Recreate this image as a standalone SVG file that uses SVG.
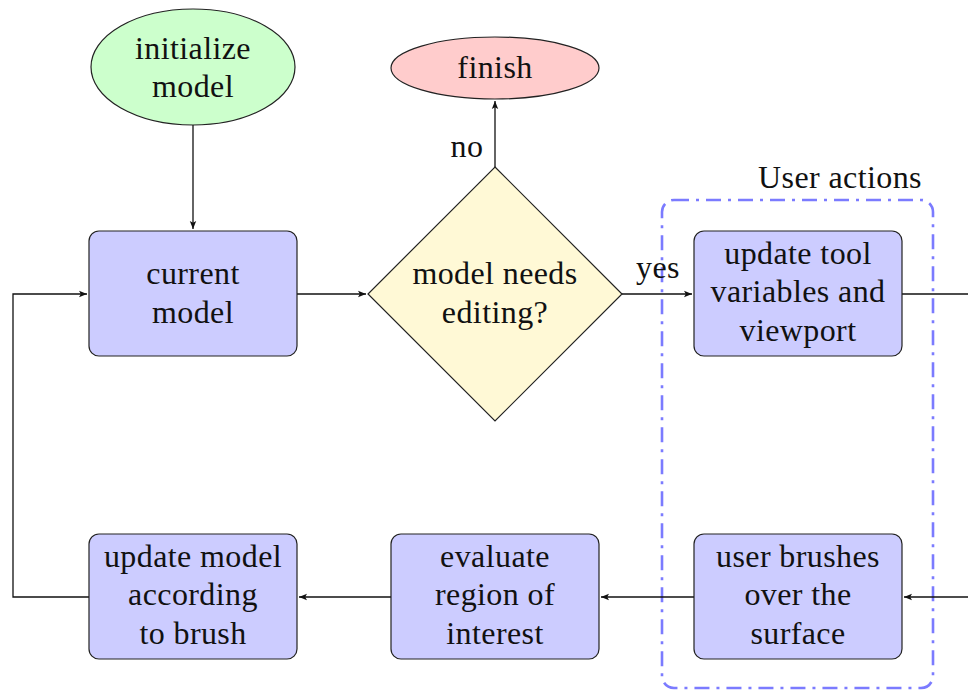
<svg xmlns="http://www.w3.org/2000/svg" width="968" height="690" viewBox="0 0 968 690">
<style>
text{font-family:"Liberation Serif","DejaVu Serif",serif;font-size:32px;letter-spacing:0.4px;fill:#111;text-anchor:middle}
.box{fill:#ccccff;stroke:#222;stroke-width:1.2}
.c{fill:none;stroke:#111;stroke-width:1.3}
</style>
<defs>
<marker id="ah" markerWidth="10" markerHeight="8" refX="8" refY="4" orient="auto" markerUnits="userSpaceOnUse">
<path d="M0,0.8 L8,4 L0,7.2 L1.8,4 Z" fill="#111"/>
</marker>
</defs>
<rect width="968" height="690" fill="#fff"/>
<g id="group-user-actions">
<rect x="662" y="200" width="271" height="488" rx="12" fill="none" stroke="#7b7bff" stroke-width="2.6" stroke-dasharray="15,7,3,7"/>
<text x="840" y="188">User actions</text>
</g>
<g id="connectors">
<path class="c" d="M193,125 V229" marker-end="url(#ah)"/>
<path class="c" d="M297,294 H366" marker-end="url(#ah)"/>
<path class="c" d="M495,167 V101" marker-end="url(#ah)"/>
<path class="c" d="M622,294 H692" marker-end="url(#ah)"/>
<path class="c" d="M902,294 H968"/>
<path class="c" d="M968,597 H904" marker-end="url(#ah)"/>
<path class="c" d="M694,597 H601" marker-end="url(#ah)"/>
<path class="c" d="M391,597 H299" marker-end="url(#ah)"/>
<path class="c" d="M89,597 H13 V294 H87" marker-end="url(#ah)"/>
<text x="467" y="157">no</text>
<text x="658" y="278">yes</text>
</g>
<g id="initialize">
<ellipse cx="193" cy="67" rx="102" ry="58" fill="#ccffcc" stroke="#222" stroke-width="1.2"/>
<text x="193" y="59">initialize</text>
<text x="193" y="97">model</text>
</g>
<g id="finish">
<ellipse cx="495" cy="68" rx="104" ry="31" fill="#ffcccc" stroke="#222" stroke-width="1.2"/>
<text x="495" y="78">finish</text>
</g>
<g id="current-model">
<rect class="box" x="89" y="231" width="208" height="125" rx="10"/>
<text x="193" y="284">current</text>
<text x="193" y="323">model</text>
</g>
<g id="decision">
<polygon points="495,167 622,294 495,421 368,294" fill="#fff9d6" stroke="#222" stroke-width="1.2"/>
<text x="495" y="284">model needs</text>
<text x="495" y="323">editing?</text>
</g>
<g id="update-tool">
<rect class="box" x="694" y="231" width="208" height="125" rx="10"/>
<text x="798" y="264">update tool</text>
<text x="798" y="302">variables and</text>
<text x="798" y="341">viewport</text>
</g>
<g id="user-brushes">
<rect class="box" x="694" y="534" width="208" height="125" rx="10"/>
<text x="798" y="567">user brushes</text>
<text x="798" y="605">over the</text>
<text x="798" y="644">surface</text>
</g>
<g id="evaluate">
<rect class="box" x="391" y="534" width="208" height="125" rx="10"/>
<text x="495" y="567">evaluate</text>
<text x="495" y="605">region of</text>
<text x="495" y="644">interest</text>
</g>
<g id="update-model">
<rect class="box" x="89" y="534" width="208" height="125" rx="10"/>
<text x="193" y="567">update model</text>
<text x="193" y="605">according</text>
<text x="193" y="644">to brush</text>
</g>
</svg>
